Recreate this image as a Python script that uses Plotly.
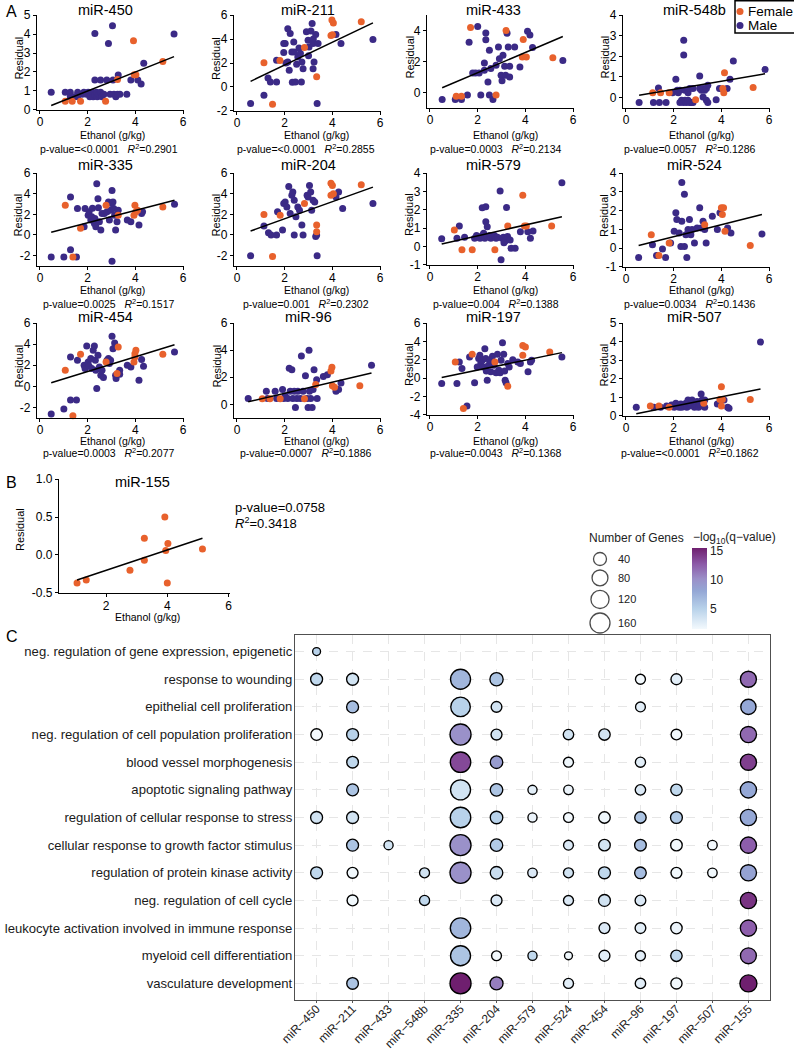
import numpy as np
import plotly.graph_objects as go

# ======================= DATA =======================
panel_names = ["miR-450", "miR-211", "miR-433", "miR-548b",
               "miR-335", "miR-204", "miR-579", "miR-524",
               "miR-454", "miR-96", "miR-197", "miR-507"]
p_value_text = ["&lt;0.0001", "&lt;0.0001", "0.0003", "0.0057",
                "0.0025", "0.001", "0.004", "0.0034",
                "0.0003", "0.0007", "0.0043", "&lt;0.0001"]
r_squared = ["0.2901", "0.2855", "0.2134", "0.1286",
             "0.1517", "0.2302", "0.1388", "0.1436",
             "0.2077", "0.1886", "0.1368", "0.1862"]
fit_intercept = [0.0, -0.07, -0.03, 0.0, -0.02, -0.09, 0.0, -0.03, 0.0, 0.0, -0.19, 0.0]
fit_slope = [0.50, 0.95, 0.654, 0.198, 0.60, 0.83, 0.294, 0.319, 0.70, 0.41, 0.538, 0.257]

male_450 = [(0.47,0.93),(1.06,0.93),(1.27,0.93),(1.27,0.7),(1.44,0.7),(1.58,0.93),(1.58,0.7),(1.77,0.82),(1.84,0.93),(1.95,0.82),(2.02,0.93),(2.09,0.7),(2.12,0.82),(2.19,0.93),(2.23,0.7),(2.30,0.79),(2.30,4.03),(2.30,1.58),(2.37,0.93),(2.40,0.7),(2.47,0.82),(2.54,0.93),(2.54,1.58),(2.60,0.7),(2.68,0.82),(2.80,1.58),(2.87,3.5),(2.94,0.82),(3.04,4.44),(3.06,1.58),(3.10,0.82),(3.18,0.7),(3.25,0.82),(3.28,1.84),(3.35,0.82),(3.64,0.82),(3.81,1.58),(4.10,1.58),(4.24,1.37),(4.35,2.46),(5.62,4.0)]
female_450 = [(1.06,0.45),(1.35,0.45),(1.70,0.45),(2.75,0.45),(3.25,1.6),(3.92,3.65),(3.95,1.85),(4.02,1.85),(5.15,2.55)]

male_211 = [(0.57,-1.39),(1.13,-0.7),(1.30,0.75),(1.40,0.42),(1.66,0.42),(1.66,2.23),(1.96,3.62),(1.96,2.87),(2.02,3.62),(2.05,2.0),(2.13,4.87),(2.13,2.09),(2.19,1.39),(2.23,4.46),(2.30,2.92),(2.32,0.4),(2.38,3.76),(2.40,2.92),(2.45,0.42),(2.50,1.9),(2.55,2.5),(2.60,3.26),(2.66,2.79),(2.70,0.42),(2.72,2.09),(2.77,1.53),(2.91,4.6),(2.98,3.9),(3.00,2.6),(3.02,3.34),(3.10,4.68),(3.15,5.29),(3.19,3.62),(3.19,1.53),(3.20,4.0),(3.23,2.09),(3.30,4.37),(3.36,-1.39),(3.40,3.62),(4.15,4.37),(4.36,3.62),(5.70,3.96)]
female_211 = [(1.13,2.03),(1.49,-1.45),(1.80,2.2),(2.83,3.3),(3.34,0.85),(3.94,4.3),(3.98,5.6),(4.04,5.35),(4.00,4.35),(5.21,5.45)]

male_433 = [(0.51,-0.45),(1.06,-0.45),(1.32,-0.45),(1.57,-0.17),(1.64,3.25),(1.79,1.26),(1.91,1.26),(2.0,4.26),(2.06,1.26),(2.13,-0.17),(2.28,1.9),(2.28,1.43),(2.34,3.85),(2.34,3.4),(2.43,0.68),(2.49,-0.17),(2.49,2.72),(2.55,1.54),(2.64,-0.45),(2.77,1.75),(2.87,2.93),(2.91,2.18),(2.98,1.11),(3.02,0.75),(3.06,2.4),(3.13,1.69),(3.17,1.11),(3.23,3.83),(3.28,2.93),(3.34,1.69),(3.34,1.0),(3.55,2.93),(3.77,1.65),(4.09,3.96),(4.19,3.72),(4.3,2.9),(5.57,2.07)]
female_433 = [(1.1,-0.24),(1.32,-0.24),(1.7,4.2),(2.77,-0.17),(3.19,4.0),(3.91,3.42),(3.87,2.29),(4.04,2.29),(5.15,2.25)]

male_548b = [(0.55,-0.24),(1.15,-0.24),(1.36,0.47),(1.4,-0.24),(1.68,-0.24),(1.95,0.23),(2.09,0.89),(2.15,0.36),(2.19,0.23),(2.26,0.36),(2.26,-0.24),(2.33,-0.13),(2.4,-0.24),(2.42,2.78),(2.42,2.06),(2.47,-0.13),(2.47,0.36),(2.53,-0.24),(2.6,-0.13),(2.6,0.23),(2.67,-0.24),(2.67,0.44),(2.74,-0.24),(2.81,-0.24),(2.81,0.44),(3.09,1.05),(3.09,0.44),(3.16,0.36),(3.23,0.44),(3.23,0.03),(3.3,0.36),(3.37,0.44),(3.37,-0.13),(3.43,0.6),(3.43,-0.24),(3.78,-0.1),(3.92,0.44),(4.24,0.44),(4.36,0.89),(4.5,1.78),(5.83,1.36)]
female_548b = [(1.12,0.23),(1.45,0.23),(1.81,0.23),(2.92,-0.1),(4.06,0.44),(4.1,0.23),(4.13,1.2),(5.33,0.49)]

male_335 = [(0.47,-2.14),(1.0,-2.14),(1.28,3.68),(1.28,-1.44),(1.53,-2.14),(1.57,2.56),(1.85,0.8),(1.89,2.56),(2.02,1.92),(2.06,2.24),(2.13,1.44),(2.17,1.76),(2.2,2.6),(2.28,1.12),(2.3,1.6),(2.34,0.8),(2.38,4.96),(2.43,3.52),(2.45,2.65),(2.49,1.28),(2.55,0.48),(2.6,2.08),(2.7,2.08),(2.81,2.24),(2.87,3.2),(2.91,1.44),(2.96,2.4),(3.0,3.05),(3.02,4.32),(3.02,-2.56),(3.06,3.2),(3.09,2.56),(3.13,1.92),(3.17,0.48),(3.23,1.28),(3.28,2.4),(3.66,1.44),(3.81,1.28),(4.15,0.96),(4.26,2.08),(4.3,2.24),(5.64,2.98)]
female_335 = [(1.06,2.88),(1.38,-2.14),(1.70,0.64),(2.77,2.88),(3.28,1.92),(3.94,1.92),(3.98,2.88),(4.02,2.24),(4.09,2.4),(5.15,2.72)]

male_204 = [(0.57,-2.02),(1.13,0.86),(1.32,0.22),(1.43,0.0),(1.66,0.0),(1.70,2.24),(1.91,0.48),(1.96,3.04),(2.02,3.2),(2.09,2.72),(2.17,4.7),(2.23,2.08),(2.3,3.84),(2.34,4.16),(2.4,3.36),(2.4,0.0),(2.47,1.76),(2.55,2.72),(2.62,2.4),(2.72,0.96),(2.77,0.0),(2.94,3.84),(2.98,3.68),(3.04,4.8),(3.09,4.16),(3.13,2.4),(3.19,3.36),(3.26,3.2),(3.3,-0.16),(3.34,0.0),(3.36,-2.02),(4.15,3.68),(4.26,4.16),(4.43,2.56),(5.7,3.04)]
female_204 = [(1.13,1.98),(1.49,-2.08),(1.81,1.92),(2.83,3.04),(3.34,0.96),(3.34,0.32),(3.94,5.02),(4.0,4.8),(4.04,4.0),(3.94,3.84),(5.21,4.86)]

male_579 = [(0.49,0.42),(1.13,0.45),(1.23,1.12),(1.45,0.5),(1.87,0.45),(1.95,0.6),(2.02,0.5),(2.1,0.45),(2.19,0.6),(2.19,2.11),(2.25,0.72),(2.3,0.45),(2.34,2.17),(2.34,1.35),(2.4,1.08),(2.4,0.55),(2.5,0.6),(2.55,0.45),(2.62,0.55),(2.7,0.6),(2.77,0.45),(2.83,0.5),(2.94,3.03),(2.98,-0.72),(3.02,0.45),(3.08,0.5),(3.1,0.2),(3.15,0.3),(3.21,2.13),(3.25,0.55),(3.36,0.36),(3.4,-0.09),(3.57,-0.09),(3.79,0.81),(4.1,0.81),(4.21,0.45),(4.32,0.85),(5.53,3.48)]
female_579 = [(1.02,0.9),(1.34,-0.18),(1.77,-0.18),(2.72,-0.18),(3.26,1.12),(3.89,2.8),(3.96,1.12),(4.04,1.12),(5.1,1.12)]

male_524 = [(0.53,-0.5),(1.11,0.18),(1.28,-0.39),(1.53,-0.04),(1.66,-0.5),(1.87,0.27),(2.02,0.9),(2.09,1.88),(2.13,1.52),(2.23,0.81),(2.3,0.09),(2.34,1.43),(2.34,3.5),(2.45,2.87),(2.45,0.09),(2.51,0.72),(2.55,-0.5),(2.6,0.99),(2.66,1.52),(2.72,0.72),(2.77,0.99),(2.87,0.27),(2.98,1.08),(3.09,2.15),(3.15,1.08),(3.23,1.43),(3.3,0.99),(3.36,0.27),(3.62,1.7),(3.83,0.99),(3.94,1.88),(4.26,1.08),(4.4,0.81),(5.7,0.75)]
female_524 = [(1.06,0.72),(1.38,-0.39),(1.81,0.27),(3.3,1.25),(4.0,2.15),(4.09,2.15),(4.04,1.79),(4.15,0.9),(5.21,0.14)]

male_454 = [(0.47,-2.63),(1.0,-2.16),(1.28,2.79),(1.28,-1.31),(1.53,-1.31),(1.57,2.47),(1.85,2.0),(1.89,1.69),(1.96,3.83),(2.02,2.31),(2.06,1.91),(2.13,2.63),(2.17,1.69),(2.23,3.42),(2.28,3.83),(2.32,2.47),(2.34,1.53),(2.38,-0.2),(2.43,2.94),(2.49,1.84),(2.55,1.06),(2.6,1.53),(2.66,0.83),(2.81,2.47),(2.87,2.63),(2.91,2.16),(2.96,2.47),(3.02,4.74),(3.06,3.57),(3.13,4.11),(3.17,1.06),(3.19,0.74),(3.34,1.53),(3.34,1.15),(3.66,2.0),(3.81,1.84),(4.15,0.58),(4.26,2.54),(4.34,1.91),(5.64,3.26)]
female_454 = [(1.06,1.53),(1.38,-2.79),(1.70,3.04),(2.77,2.31),(3.23,1.21),(3.28,3.73),(3.94,2.31),(3.98,3.1),(4.02,3.42),(3.98,2.79),(5.15,3.04)]

male_96 = [(0.47,0.44),(1.23,0.97),(1.28,0.44),(1.6,0.97),(1.66,0.44),(1.91,1.09),(1.96,0.44),(2.02,0.61),(2.13,0.44),(2.19,2.67),(2.3,2.55),(2.23,0.97),(2.34,0.44),(2.4,0.97),(2.45,-0.24),(2.51,0.44),(2.55,0.97),(2.66,0.44),(2.7,3.57),(2.77,0.97),(2.87,2.11),(2.94,0.44),(2.98,-0.24),(3.02,4.0),(3.04,0.97),(3.09,0.44),(3.15,-0.24),(3.19,1.09),(3.23,2.55),(3.34,1.82),(3.36,0.44),(3.62,2.06),(3.79,2.18),(4.15,0.97),(4.26,1.09),(4.36,1.58),(5.64,2.89)]
female_96 = [(1.06,0.41),(1.38,0.41),(1.81,0.41),(2.83,0.41),(3.3,1.46),(3.94,2.47),(3.98,2.74),(4.0,1.38),(4.09,1.26),(5.15,1.38)]

male_197 = [(0.49,-0.58),(1.13,-0.58),(1.23,1.77),(1.34,1.05),(1.55,-3.03),(1.66,2.31),(1.87,-0.5),(1.98,1.23),(2.04,2.13),(2.09,2.49),(2.13,1.66),(2.19,1.95),(2.23,1.23),(2.3,3.21),(2.34,2.13),(2.36,0.79),(2.4,-0.22),(2.45,1.41),(2.51,1.95),(2.55,0.69),(2.62,2.38),(2.68,1.41),(2.77,0.58),(2.83,2.6),(2.89,0.87),(2.94,0.58),(2.98,1.95),(3.04,3.86),(3.09,2.6),(3.13,0.79),(3.15,-0.22),(3.19,-0.5),(3.26,1.59),(3.32,1.23),(3.47,2.02),(3.68,1.77),(3.79,1.59),(4.11,0.69),(4.21,1.77),(4.26,1.95),(5.53,2.31)]
female_197 = [(1.06,1.77),(1.4,-3.29),(1.77,2.6),(2.72,1.77),(3.26,-0.87),(3.89,2.49),(3.89,3.57),(4.0,3.39),(5.02,2.85)]

male_507 = [(0.43,0.46),(1.17,0.46),(1.45,0.46),(1.7,0.54),(1.91,0.59),(2.02,0.46),(2.09,0.68),(2.17,0.54),(2.23,0.46),(2.3,0.64),(2.34,0.46),(2.45,0.54),(2.51,0.68),(2.55,0.46),(2.6,0.86),(2.66,0.54),(2.72,0.64),(2.77,0.86),(2.87,0.46),(2.94,0.54),(2.98,0.77),(3.04,0.46),(3.09,0.64),(3.15,1.18),(3.19,0.86),(3.23,0.54),(3.3,0.46),(3.3,0.86),(3.83,0.64),(4.11,0.86),(4.26,0.46),(4.32,0.41),(5.64,3.98)]
female_507 = [(1.02,0.54),(1.38,0.54),(1.81,0.46),(3.26,0.68),(3.94,0.89),(4.0,1.57),(4.0,0.54),(4.04,0.89),(5.21,0.89)]

# Panel B
female_155 = [(1.05,-0.37),(1.35,-0.33),(2.78,-0.2),(3.25,0.22),(3.25,-0.07),(3.92,0.5),(3.95,0.06),(4.02,0.15),(4.0,-0.37),(5.15,0.08)]
fit_155 = (-0.47, 0.134)
p_value_155 = "0.0758"
r_squared_155 = "0.3418"

# Panel C
mirs = ["miR-450", "miR-211", "miR-433", "miR-548b", "miR-335", "miR-204", "miR-579",
        "miR-524", "miR-454", "miR-96", "miR-197", "miR-507", "miR-155"]
go_terms = ["neg. regulation of gene expression, epigenetic",
            "response to wounding",
            "epithelial cell proliferation",
            "neg. regulation of cell population proliferation",
            "blood vessel morphogenesis",
            "apoptotic signaling pathway",
            "regulation of cellular response to stress",
            "cellular response to growth factor stimulus",
            "regulation of protein kinase activity",
            "neg. regulation of cell cycle",
            "leukocyte activation involved in immune response",
            "myeloid cell differentiation",
            "vasculature development"]
N = None
#               450 211 433 548b 335 204 579 524 454  96 197 507 155
gene_counts = [[3,  N,  N,  N,   N,  N,  N,  N,  N,  N,  N,  N,  N],
               [29, 29, N,  N,   160, 43, N, N,  N,  13, 20, N,  82],
               [N,  29, N,  N,   150, 18, N, N,  N,  12, N,  N,  70],
               [25, 29, N,  N,   184, 20, N, 16, 24, N,  18, N,  85],
               [N,  26, N,  N,   170, 35, N, 13, N,  14, N,  N,  85],
               [N,  29, N,  N,   160, 35, 8, 10, N,  16, 24, N,  85],
               [29, 29, N,  N,   170, 35, 8, 12, 25, 24, 28, N,  85],
               [N,  29, 8,  N,   184, 34, N, 12, 25, 26, 25, 10, 85],
               [29, 20, N,  13,  184, 35, 10, 13, 29, 26, 20, 10, 85],
               [N,  20, N,  14,  N,  20, N, 13, 28, 18, N,  N,  85],
               [N,  N,  N,  N,   170, N, N,  N,  20, 18, 24, N,  85],
               [N,  N,  N,  N,   160, 12, 8, 3,  20, 13, 24, N,  80],
               [N,  26, N,  N,   184, 40, N, 13, N,  16, 22, N,  100]]
neg_log10_q = [[5,   N,   N,   N,   N,    N,    N,   N,   N,   N,   N,   N,   N],
               [4.5, 3.5, N,   N,   7,    6,    N,   N,   N,   1.5, 2.5, N,   12],
               [N,   6.5, N,   N,   5,    3.5,  N,   N,   N,   2.5, N,   N,   8],
               [1.5, 5,   N,   N,   10,   3.5,  N,   3.5, 3.5, N,   1.6, N,   12],
               [N,   4.5, N,   N,   13.5, 9,    N,   1.8, N,   2.5, N,   N,   14],
               [N,   6,   N,   N,   3.5,  6,    2.5, 2,   N,   3,   4.5, N,   8],
               [3.5, 3.5, N,   N,   5,    5,    2,   1.5, 1.8, 6,   5.5, N,   8],
               [N,   6,   3.5, N,   10,   5.5,  N,   3,   3.5, 6.5, 1.6, 1.5, 12.5],
               [4.5, 1.6, N,   3.5, 10,   4,    3,   3.5, 4.5, 6.5, 1.6, 1.6, 8.5],
               [N,   1.6, N,   4.5, N,    3,    N,   3,   3.5, 3,   N,   N,   14.5],
               [N,   N,   N,   N,   7,    N,    N,   N,   3,   2.5, 2,   N,   12.5],
               [N,   N,   N,   N,   6,    1.5,  4.5, 1.8, 2.5, 2.5, 4.5, N,   12],
               [N,   6,   N,   N,   16,   11,   N,   2.5, N,   2.5, 1.6, N,   16]]
size_legend_genes = [40, 80, 120, 160]
colorbar_ticks = [5, 10, 15]

# ======================= STYLE / LAYOUT =======================
W, H = 794, 1050
FONT = "Liberation Sans, Arial, Helvetica, sans-serif"
FEMALE_C = "#E8612C"
MALE_C = "#3B2A86"
NBSP = "\u00a0"


def px(x):
    return x / W


def py(y):
    return 1 - y / H


def diam(g):
    return 6 + 14 * np.sqrt(g / 160.0)


male_sets = [male_450, male_211, male_433, male_548b, male_335, male_204,
             male_579, male_524, male_454, male_96, male_197, male_507]
female_sets = [female_450, female_211, female_433, female_548b, female_335, female_204,
               female_579, female_524, female_454, female_96, female_197, female_507]

x0_px = [40, 237, 430, 626]
XPU = 23.85
XR = [-0.13, 6.05]
# (top px, bottom px, ymin, ymax, dtick)
ycfg = [(15, 110, 0, 5, 1), (15, 111, -2, 6, 2), (15, 108, -1, 5, 2), (15, 108, -0.5, 4, 1),
        (173, 266, -3, 6, 2), (173, 266, -3, 6, 2), (173, 265, -1, 4, 1), (173, 267, -1, 4, 1),
        (323, 418, -3, 6, 2), (323, 418, -1, 6, 2), (323, 415, -4, 6, 2), (323, 416, 0, 5, 1)]
title_y = [10, 165, 317]
eth_y = [135, 290, 441]
pval_y = [148.5, 303, 452]
title_x = [106, 308, 493, 694]
eth_x = [112, 316, 505, 701]
pval_x = [109, 306, 496, 690]
resid_x = [18, 216, 409, 604]
xtick_standoff = [-3, -3, -3]

fig = go.Figure()
annotations = []
shapes = []
lay = {}


def ann(x, y, text, size=11, xanchor="center", yanchor="middle", angle=0, color="black"):
    annotations.append(dict(x=px(x), y=py(y), xref="paper", yref="paper", text=text,
                            showarrow=False, xanchor=xanchor, yanchor=yanchor, textangle=angle,
                            font=dict(family=FONT, size=size, color=color)))


def axis_base():
    return dict(showline=True, linecolor="black", linewidth=1.3, ticks="outside", ticklen=3,
                tickwidth=1.2, tickcolor="black", showgrid=False, zeroline=False,
                automargin=False, tickfont=dict(family=FONT, size=12, color="black"))


def fmt(v):
    return str(int(v)) if float(v).is_integer() else str(v)


EPS = 1e-3
for i in range(12):
    r, c = divmod(i, 4)
    n = i + 1
    xk = "xaxis" if n == 1 else f"xaxis{n}"
    yk = "yaxis" if n == 1 else f"yaxis{n}"
    xref = "x" if n == 1 else f"x{n}"
    yref = "y" if n == 1 else f"y{n}"
    top, bot, ymin, ymax, dt = ycfg[i]
    left = x0_px[c] + XR[0] * XPU
    right = x0_px[c] + XR[1] * XPU
    xa = axis_base()
    xa.update(domain=[px(left), px(right)], range=XR, tickvals=[0, 2, 4, 6],
              ticktext=["0", "2", "4", "6"], anchor=yref, ticklabelstandoff=xtick_standoff[r])
    ya = axis_base()
    yt = np.arange(np.ceil(ymin / dt) * dt, ymax + 1e-9, dt)
    span = ymax - ymin
    ya.update(domain=[py(bot), py(top)], range=[ymin - EPS * span, ymax + EPS * span],
              tickvals=list(yt), ticktext=[fmt(v) for v in yt], anchor=xref)
    lay[xk] = xa
    lay[yk] = ya

    mx, my = zip(*male_sets[i])
    fx, fy = zip(*female_sets[i])
    fig.add_trace(go.Scatter(x=mx, y=my, mode="markers", xaxis=xref, yaxis=yref, cliponaxis=False,
                             marker=dict(color=MALE_C, size=7), showlegend=False, hoverinfo="skip"))
    fig.add_trace(go.Scatter(x=fx, y=fy, mode="markers", xaxis=xref, yaxis=yref, cliponaxis=False,
                             marker=dict(color=FEMALE_C, size=7), showlegend=False, hoverinfo="skip"))
    allx = np.array(mx + fx)
    xl = np.array([allx.min(), allx.max()])
    yl = fit_intercept[i] + fit_slope[i] * xl
    fig.add_trace(go.Scatter(x=xl, y=yl, mode="lines", xaxis=xref, yaxis=yref,
                             line=dict(color="black", width=1.5), showlegend=False, hoverinfo="skip"))

    ann(title_x[c], title_y[r], panel_names[i], size=14.5)
    ann(resid_x[c], (top + bot) / 2 - 4, "Residual", size=11, angle=-90)
    ann(eth_x[c], eth_y[r], "Ethanol (g/kg)", size=10.5)
    ann(pval_x[c], pval_y[r],
        f"p-value={p_value_text[i]}{NBSP}{NBSP}{NBSP}<i>R</i><sup>2</sup>={r_squared[i]}", size=10.5)

# ---- Panel B ----
xa = axis_base()
xa.update(domain=[px(59), px(230)], range=[0.46, 6.05], tickvals=[2, 4, 6],
          ticktext=["2", "4", "6"], anchor="y13", ticklabelstandoff=-2)
ya = axis_base()
ya.update(domain=[py(593), py(479)], range=[-0.5015, 1.0015], tickvals=[-0.5, 0, 0.5, 1.0],
          ticktext=["-0.5", "0.0", "0.5", "1.0"], anchor="x13")
lay["xaxis13"] = xa
lay["yaxis13"] = ya
bx, by = zip(*female_155)
fig.add_trace(go.Scatter(x=bx, y=by, mode="markers", xaxis="x13", yaxis="y13", cliponaxis=False,
                         marker=dict(color=FEMALE_C, size=7), showlegend=False, hoverinfo="skip"))
bxl = np.array([min(bx), max(bx)])
fig.add_trace(go.Scatter(x=bxl, y=fit_155[0] + fit_155[1] * bxl, mode="lines", xaxis="x13", yaxis="y13",
                         line=dict(color="black", width=1.5), showlegend=False, hoverinfo="skip"))
ann(142, 482, "miR-155", size=14.5)
ann(20, 530, "Residual", size=11, angle=-90)
ann(147, 617, "Ethanol (g/kg)", size=10.5)
ann(233, 507, f"p-value={p_value_155}", size=13, xanchor="left")
ann(233, 522.5, f"<i>R</i><sup>2</sup>={r_squared_155}", size=13, xanchor="left")

# ---- Panel C ----
bx_, by_, bs_, bc_ = [], [], [], []
for ri, term in enumerate(go_terms):
    for ci, m in enumerate(mirs):
        g = gene_counts[ri][ci]
        q = neg_log10_q[ri][ci]
        if g is None:
            continue
        bx_.append(m)
        by_.append(term)
        bs_.append(diam(g))
        bc_.append(q)

colorscale = [[0.0, "#f3f9fd"], [0.25, "#b8d2ea"], [0.47, "#94a7d5"],
              [0.62, "#9b8fc8"], [0.8, "#8c5aa8"], [1.0, "#6f1f6f"]]
fig.add_trace(go.Scatter(
    x=bx_, y=by_, mode="markers", xaxis="x14", yaxis="y14", showlegend=False, hoverinfo="skip",
    marker=dict(size=bs_, color=bc_, colorscale=colorscale, cmin=1.5, cmax=15.5, opacity=1,
                line=dict(color="black", width=1.35),
                colorbar=dict(x=px(692), xanchor="left", y=py(548), yanchor="top",
                              len=81, lenmode="pixels", thickness=15, thicknessmode="pixels",
                              outlinewidth=0, xpad=0, ypad=0, tickvals=colorbar_ticks,
                              ticks="",
                              tickfont=dict(family=FONT, size=12, color="#222"),
                              title=dict(text=""))),
))
lay["xaxis14"] = dict(domain=[px(295), px(770)], type="category", categoryorder="array",
                      categoryarray=mirs, range=[-0.6, 12.6], anchor="y14", automargin=False,
                      tickvals=mirs, ticktext=[m.replace("-", "\u2212") for m in mirs],
                      tickangle=-45, tickfont=dict(family=FONT, size=12, color="#222"),
                      ticklabelstandoff=-6,
                      showgrid=True, gridcolor="#e6e6e6", griddash="9px,8px", gridwidth=1,
                      showline=True, mirror=True, linecolor="#505050", linewidth=1.3,
                      ticks="outside", ticklen=2, tickcolor="#555", zeroline=False)
lay["yaxis14"] = dict(domain=[py(1000), py(635)], type="category", categoryorder="array",
                      categoryarray=go_terms, range=[12.6, -0.6], anchor="x14", automargin=False,
                      tickfont=dict(family=FONT, size=13.1, color="#1a1a1a"),
                      ticklabelstandoff=-1,
                      showgrid=True, gridcolor="#e6e6e6", griddash="9px,8px", gridwidth=1,
                      showline=True, mirror=True, linecolor="#505050", linewidth=1.3,
                      ticks="", zeroline=False)

# ---- overlay axis in pixel units (legends) ----
lay["xaxis15"] = dict(domain=[0, 1], range=[0, W], visible=False, anchor="y15", fixedrange=True)
lay["yaxis15"] = dict(domain=[0, 1], range=[H, 0], visible=False, anchor="x15", fixedrange=True)

# Female/Male legend
fig.add_trace(go.Scatter(x=[740, 740], y=[11.5, 25.5], mode="markers", xaxis="x15", yaxis="y15",
                         marker=dict(color=[FEMALE_C, MALE_C], size=7), showlegend=False,
                         hoverinfo="skip", cliponaxis=False))
shapes.append(dict(type="rect", xref="paper", yref="paper", x0=px(735), x1=px(800),
                   y0=py(0.7), y1=py(33), line=dict(color="black", width=1.5)))
ann(746, 11.5, "Female", size=13.5, xanchor="left")
ann(746, 25.5, "Male", size=13.5, xanchor="left")

# size legend
dl = [diam(g) for g in size_legend_genes]
ys = [559.0]
for k in range(1, len(dl)):
    ys.append(ys[-1] + (dl[k - 1] + dl[k]) / 2 + 4.5)
fig.add_trace(go.Scatter(x=[600] * len(dl), y=ys, mode="markers", xaxis="x15", yaxis="y15",
                         marker=dict(size=dl, color="white", line=dict(color="black", width=1.3)),
                         showlegend=False, hoverinfo="skip", cliponaxis=False))
for g, yv in zip(size_legend_genes, ys):
    ann(616, yv, str(g), size=11, xanchor="left", color="#222")
ann(587, 538, "Number of Genes", size=12, xanchor="left", color="#222")
ann(691, 538, "\u2212log<sub>10</sub>(q\u2212value)", size=12, xanchor="left", color="#222")

# panel letters
ann(4, 11, "A", size=16, xanchor="left")
ann(4, 482, "B", size=16, xanchor="left")
ann(4, 636, "C", size=16, xanchor="left")

fig.update_layout(width=W, height=H, autosize=False, margin=dict(l=0, r=0, t=0, b=0, pad=0),
                  paper_bgcolor="white", plot_bgcolor="rgba(0,0,0,0)", showlegend=False,
                  template="none",
                  font=dict(family=FONT, color="black"), annotations=annotations, shapes=shapes,
                  **lay)

fig.write_html("out.html", config={"displayModeBar": False},
               post_script="document.documentElement.style.margin='0px';"
                           "document.body.style.margin='0px';document.body.style.padding='0px';")
